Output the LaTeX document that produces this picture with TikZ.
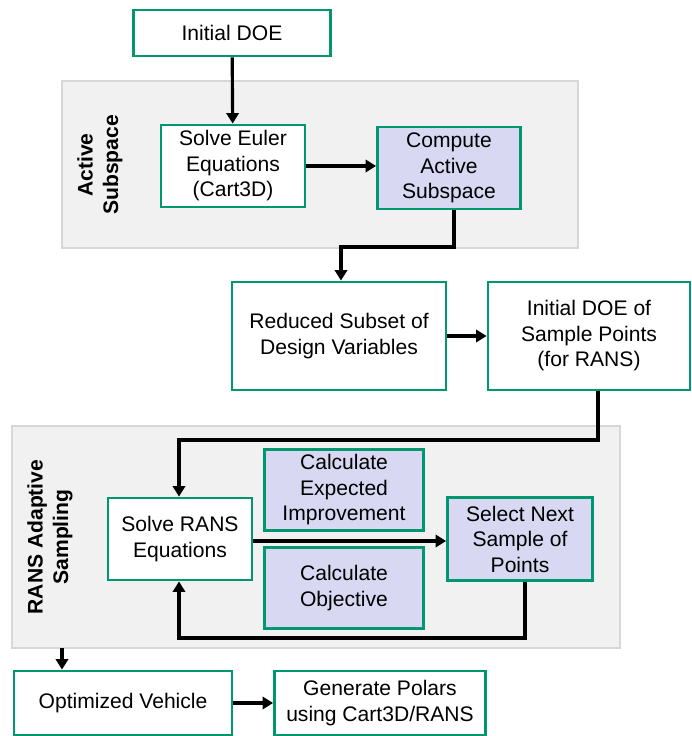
\documentclass[tikz,border=0pt]{standalone}
\usepackage{fontspec}
\setmainfont{Liberation Sans}
\usetikzlibrary{arrows.meta}
\definecolor{boxgreen}{RGB}{0,150,110}
\definecolor{boxlilac}{RGB}{216,216,242}
\definecolor{bggray}{RGB}{241,241,241}
\definecolor{bgline}{RGB}{215,215,215}
\begin{document}
\begin{tikzpicture}[x=0.02cm,y=-0.02cm,font=\fontsize{12}{14.5}\selectfont,
  box/.style={draw=boxgreen,line width=1.6pt,fill=white,align=center,inner sep=0pt},
  calcbox/.style={box,fill=boxlilac},
  region/.style={draw=bgline,fill=bggray,line width=0.6pt},
  flow/.style={line width=1.8pt,-{Triangle[length=6pt,width=7pt]}},
  tag/.style={font=\fontsize{12}{14.5}\selectfont\bfseries,align=center,rotate=90}]

\useasboundingbox (0,0) rectangle (691,736);

\begin{scope}
\draw[region] (62,81) rectangle (578,248);
\draw[region] (12,426) rectangle (620,648);
\node[tag] (as) at (100,165) {Active\\Subspace};
\node[tag] (ras) at (50,537) {RANS Adaptive\\Sampling};

\node[box,minimum width=197*0.02cm,minimum height=46*0.02cm] (doe) at (232,33) {Initial DOE};
\node[box,minimum width=144*0.02cm,minimum height=82*0.02cm] (euler) at (233,166) {Solve Euler\\Equations\\(Cart3D)};
\node[calcbox,minimum width=143*0.02cm,minimum height=82*0.02cm] (comp) at (449,168) {Compute\\Active\\Subspace};
\node[box,minimum width=214*0.02cm,minimum height=108*0.02cm] (red) at (339,336) {Reduced Subset of\\Design Variables};
\node[box,minimum width=202*0.02cm,minimum height=108*0.02cm] (samp) at (589,336) {Initial DOE of\\Sample Points\\(for RANS)};

\node[calcbox,minimum width=159*0.02cm,minimum height=81*0.02cm] (ei) at (344,490) {Calculate\\Expected\\Improvement};
\node[box,minimum width=144*0.02cm,minimum height=82*0.02cm] (rans) at (180,539) {Solve RANS\\Equations};
\node[calcbox,minimum width=145*0.02cm,minimum height=83*0.02cm] (next) at (520,539) {Select Next\\Sample of\\Points};
\node[calcbox,minimum width=159*0.02cm,minimum height=81*0.02cm] (obj) at (344,588) {Calculate\\Objective};

\node[box,minimum width=218*0.02cm,minimum height=64*0.02cm] (opt) at (123,703) {Optimized Vehicle};
\node[box,minimum width=211*0.02cm,minimum height=64*0.02cm] (pol) at (380,703) {Generate Polars\\using Cart3D/RANS};
\coordinate (rasout) at (62,648);

\draw[flow] (doe) -- (euler);
\draw[flow] (euler) -- (comp.west|-euler);
\draw[flow] (comp.south-|454,0) |- (341,247) -- (red.north-|341,0);
\draw[flow] (red) -- (samp);
\draw[flow] (samp.south-|598,0) |- (179,440) -- (rans.north-|179,0);
\draw[flow] (rans.east|-180,541) -- (next.west|-180,541);
\draw[flow] (next.south-|525,0) |- (179,638) -- (rans.south-|179,0);
\draw[flow] (rasout) -- (opt.north-|rasout);
\draw[flow] (opt) -- (pol);
\end{scope}

\end{tikzpicture}
\end{document}
